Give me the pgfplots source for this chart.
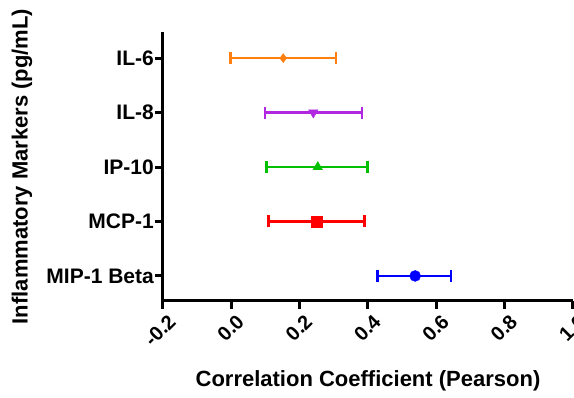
\documentclass[border=0pt]{standalone}
\usepackage{fontspec}
\setmainfont{Liberation Sans}
\usepackage{pgfplots}
\pgfplotsset{compat=1.18}
\definecolor{cOrange}{RGB}{255,128,16}
\definecolor{cPurple}{RGB}{176,40,224}
\definecolor{cGreen}{RGB}{0,192,0}
\definecolor{cRed}{RGB}{255,0,0}
\definecolor{cBlue}{RGB}{0,0,255}
\pgfplotsset{
  ebar/.style={only marks, color=#1, mark options={fill=#1, draw=#1, solid},
    error bars/.cd, x dir=both, x explicit,
    error bar style={line width=2.6pt, color=#1},
    error mark=|,
    error mark options={line width=2.6pt, mark size=6pt, color=#1},
    /pgfplots/.cd},
}
\begin{document}
\begin{tikzpicture}[x=1pt,y=1pt]
\useasboundingbox (0,0) rectangle (574,398);
\begin{axis}[
  at={(163pt,97pt)}, anchor=south west,
  scale only axis, width=410pt, height=269pt,
  xmin=-0.2, xmax=1.0, ymin=0.54, ymax=5.48,
  axis x line*=bottom, axis y line*=left,
  axis line style={line width=3pt, black},
  every tick/.style={line width=3pt, black},
  tick align=outside, major tick length=8pt,
  xtick={-0.2,0,0.2,0.4,0.6,0.8,1.0},
  xticklabel={\pgfmathprintnumber[fixed,fixed zerofill,precision=1,assume math mode=true]{\tick}},
  ytick={1,2,3,4,5},
  yticklabels={MIP-1 Beta,MCP-1,IP-10,IL-8,IL-6},
  xticklabel style={rotate=45, anchor=east, font=\bfseries\fontsize{20}{24}\selectfont, inner sep=1pt, yshift=-13pt, xshift=1pt},
  yticklabel style={font=\bfseries\fontsize{21}{24}\selectfont, inner sep=1pt},
  xlabel={Correlation Coefficient (Pearson)},
  ylabel={Inflammatory Markers (pg/mL)},
  every axis x label/.style={at={(axis description cs:0.5,-0.297)}, anchor=center, font=\bfseries\fontsize{22}{26}\selectfont},
  every axis y label/.style={at={(axis description cs:-0.344,0.5)}, anchor=center, rotate=90, font=\bfseries\fontsize{22}{26}\selectfont},
  clip=false,
]
\addplot[ebar=cOrange, mark=diamond*, mark size=4.5pt] coordinates {(0.152,5) += (0.154,0) -= (0.154,0)};
\addplot[ebar=cPurple, mark=triangle*, mark size=5.5pt, mark options={rotate=180}] coordinates {(0.240,4) += (0.143,0) -= (0.142,0)};
\addplot[ebar=cGreen, mark=triangle*, mark size=5.5pt] coordinates {(0.253,3) += (0.145,0) -= (0.150,0)};
\addplot[ebar=cRed, mark=square*, mark size=5.5pt] coordinates {(0.251,2) += (0.138,0) -= (0.143,0)};
\addplot[ebar=cBlue, mark=*, mark size=5.5pt] coordinates {(0.538,1) += (0.105,0) -= (0.111,0)};
\end{axis}
\end{tikzpicture}
\end{document}
